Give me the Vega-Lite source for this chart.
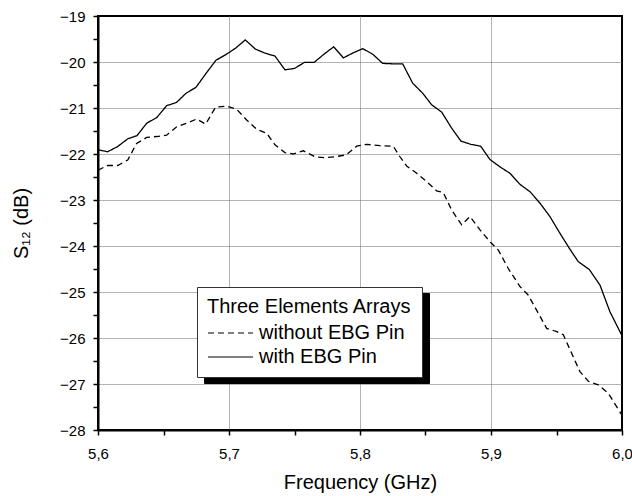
{
  "$schema": "https://vega.github.io/schema/vega-lite/v6.json",
  "autosize": {"type": "none"},
  "padding": {"left": 98, "top": 16, "right": 10, "bottom": 66},
  "width": 524,
  "height": 414,
  "background": "white",
  "config": {
    "font": "Liberation Sans",
    "view": {"stroke": "black", "strokeWidth": 2},
    "axis": {
      "domainColor": "black",
      "domainWidth": 2,
      "tickColor": "black",
      "tickWidth": 1.5,
      "tickSize": 5,
      "labelFont": "Liberation Sans",
      "labelFontSize": 15,
      "labelColor": "black",
      "titleFont": "Liberation Sans",
      "titleFontSize": 20,
      "titleFontWeight": "normal",
      "titleColor": "black",
      "gridColor": "#666666",
      "gridDash": [1, 1],
      "gridWidth": 1
    }
  },
  "data": {
    "values": [
      {"f": 5.6, "s": -21.91, "series": "with EBG Pin"},
      {"f": 5.6074, "s": -21.95, "series": "with EBG Pin"},
      {"f": 5.6149, "s": -21.84, "series": "with EBG Pin"},
      {"f": 5.6227, "s": -21.67, "series": "with EBG Pin"},
      {"f": 5.6298, "s": -21.60, "series": "with EBG Pin"},
      {"f": 5.6372, "s": -21.33, "series": "with EBG Pin"},
      {"f": 5.6448, "s": -21.21, "series": "with EBG Pin"},
      {"f": 5.6524, "s": -20.95, "series": "with EBG Pin"},
      {"f": 5.6599, "s": -20.88, "series": "with EBG Pin"},
      {"f": 5.6672, "s": -20.68, "series": "with EBG Pin"},
      {"f": 5.6748, "s": -20.55, "series": "with EBG Pin"},
      {"f": 5.6824, "s": -20.25, "series": "with EBG Pin"},
      {"f": 5.6901, "s": -19.96, "series": "with EBG Pin"},
      {"f": 5.6981, "s": -19.83, "series": "with EBG Pin"},
      {"f": 5.7050, "s": -19.70, "series": "with EBG Pin"},
      {"f": 5.7124, "s": -19.52, "series": "with EBG Pin"},
      {"f": 5.7202, "s": -19.72, "series": "with EBG Pin"},
      {"f": 5.7277, "s": -19.81, "series": "with EBG Pin"},
      {"f": 5.7351, "s": -19.87, "series": "with EBG Pin"},
      {"f": 5.7427, "s": -20.17, "series": "with EBG Pin"},
      {"f": 5.7500, "s": -20.14, "series": "with EBG Pin"},
      {"f": 5.7575, "s": -20.01, "series": "with EBG Pin"},
      {"f": 5.7649, "s": -20.01, "series": "with EBG Pin"},
      {"f": 5.7725, "s": -19.83, "series": "with EBG Pin"},
      {"f": 5.7799, "s": -19.67, "series": "with EBG Pin"},
      {"f": 5.7873, "s": -19.91, "series": "with EBG Pin"},
      {"f": 5.7949, "s": -19.80, "series": "with EBG Pin"},
      {"f": 5.8021, "s": -19.71, "series": "with EBG Pin"},
      {"f": 5.8097, "s": -19.83, "series": "with EBG Pin"},
      {"f": 5.8173, "s": -20.03, "series": "with EBG Pin"},
      {"f": 5.8250, "s": -20.04, "series": "with EBG Pin"},
      {"f": 5.8326, "s": -20.04, "series": "with EBG Pin"},
      {"f": 5.8402, "s": -20.46, "series": "with EBG Pin"},
      {"f": 5.8479, "s": -20.68, "series": "with EBG Pin"},
      {"f": 5.8547, "s": -20.93, "series": "with EBG Pin"},
      {"f": 5.8624, "s": -21.09, "series": "with EBG Pin"},
      {"f": 5.8700, "s": -21.44, "series": "with EBG Pin"},
      {"f": 5.8771, "s": -21.72, "series": "with EBG Pin"},
      {"f": 5.8847, "s": -21.79, "series": "with EBG Pin"},
      {"f": 5.8921, "s": -21.83, "series": "with EBG Pin"},
      {"f": 5.8992, "s": -22.12, "series": "with EBG Pin"},
      {"f": 5.9069, "s": -22.28, "series": "with EBG Pin"},
      {"f": 5.9145, "s": -22.42, "series": "with EBG Pin"},
      {"f": 5.9221, "s": -22.66, "series": "with EBG Pin"},
      {"f": 5.9298, "s": -22.82, "series": "with EBG Pin"},
      {"f": 5.9374, "s": -23.07, "series": "with EBG Pin"},
      {"f": 5.9450, "s": -23.36, "series": "with EBG Pin"},
      {"f": 5.9519, "s": -23.69, "series": "with EBG Pin"},
      {"f": 5.9598, "s": -24.05, "series": "with EBG Pin"},
      {"f": 5.9666, "s": -24.34, "series": "with EBG Pin"},
      {"f": 5.9750, "s": -24.51, "series": "with EBG Pin"},
      {"f": 5.9832, "s": -24.85, "series": "with EBG Pin"},
      {"f": 5.9908, "s": -25.43, "series": "with EBG Pin"},
      {"f": 6.0, "s": -25.95, "series": "with EBG Pin"},
      {"f": 5.6, "s": -22.35, "series": "without EBG Pin"},
      {"f": 5.6074, "s": -22.25, "series": "without EBG Pin"},
      {"f": 5.6150, "s": -22.25, "series": "without EBG Pin"},
      {"f": 5.6227, "s": -22.13, "series": "without EBG Pin"},
      {"f": 5.6295, "s": -21.77, "series": "without EBG Pin"},
      {"f": 5.6372, "s": -21.64, "series": "without EBG Pin"},
      {"f": 5.6448, "s": -21.62, "series": "without EBG Pin"},
      {"f": 5.6524, "s": -21.59, "series": "without EBG Pin"},
      {"f": 5.6601, "s": -21.41, "series": "without EBG Pin"},
      {"f": 5.6677, "s": -21.33, "series": "without EBG Pin"},
      {"f": 5.6753, "s": -21.24, "series": "without EBG Pin"},
      {"f": 5.6822, "s": -21.35, "series": "without EBG Pin"},
      {"f": 5.6898, "s": -20.98, "series": "without EBG Pin"},
      {"f": 5.6982, "s": -20.96, "series": "without EBG Pin"},
      {"f": 5.7059, "s": -21.03, "series": "without EBG Pin"},
      {"f": 5.7135, "s": -21.26, "series": "without EBG Pin"},
      {"f": 5.7211, "s": -21.46, "series": "without EBG Pin"},
      {"f": 5.7288, "s": -21.55, "series": "without EBG Pin"},
      {"f": 5.7351, "s": -21.80, "series": "without EBG Pin"},
      {"f": 5.7427, "s": -21.97, "series": "without EBG Pin"},
      {"f": 5.7491, "s": -22.00, "series": "without EBG Pin"},
      {"f": 5.7567, "s": -21.93, "series": "without EBG Pin"},
      {"f": 5.7656, "s": -22.06, "series": "without EBG Pin"},
      {"f": 5.7733, "s": -22.08, "series": "without EBG Pin"},
      {"f": 5.7809, "s": -22.06, "series": "without EBG Pin"},
      {"f": 5.7893, "s": -22.02, "series": "without EBG Pin"},
      {"f": 5.7975, "s": -21.83, "series": "without EBG Pin"},
      {"f": 5.8051, "s": -21.79, "series": "without EBG Pin"},
      {"f": 5.8153, "s": -21.82, "series": "without EBG Pin"},
      {"f": 5.8254, "s": -21.83, "series": "without EBG Pin"},
      {"f": 5.8305, "s": -22.06, "series": "without EBG Pin"},
      {"f": 5.8356, "s": -22.26, "series": "without EBG Pin"},
      {"f": 5.8433, "s": -22.42, "series": "without EBG Pin"},
      {"f": 5.8509, "s": -22.60, "series": "without EBG Pin"},
      {"f": 5.8585, "s": -22.80, "series": "without EBG Pin"},
      {"f": 5.8636, "s": -22.84, "series": "without EBG Pin"},
      {"f": 5.8700, "s": -23.22, "series": "without EBG Pin"},
      {"f": 5.8776, "s": -23.54, "series": "without EBG Pin"},
      {"f": 5.8840, "s": -23.36, "series": "without EBG Pin"},
      {"f": 5.8916, "s": -23.65, "series": "without EBG Pin"},
      {"f": 5.8996, "s": -23.92, "series": "without EBG Pin"},
      {"f": 5.9056, "s": -24.09, "series": "without EBG Pin"},
      {"f": 5.9132, "s": -24.49, "series": "without EBG Pin"},
      {"f": 5.9221, "s": -24.88, "series": "without EBG Pin"},
      {"f": 5.9285, "s": -25.07, "series": "without EBG Pin"},
      {"f": 5.9361, "s": -25.46, "series": "without EBG Pin"},
      {"f": 5.9425, "s": -25.79, "series": "without EBG Pin"},
      {"f": 5.9502, "s": -25.86, "series": "without EBG Pin"},
      {"f": 5.9552, "s": -25.93, "series": "without EBG Pin"},
      {"f": 5.9628, "s": -26.41, "series": "without EBG Pin"},
      {"f": 5.9679, "s": -26.73, "series": "without EBG Pin"},
      {"f": 5.9743, "s": -26.94, "series": "without EBG Pin"},
      {"f": 5.9819, "s": -27.02, "series": "without EBG Pin"},
      {"f": 5.9895, "s": -27.20, "series": "without EBG Pin"},
      {"f": 6.0, "s": -27.68, "series": "without EBG Pin"}
    ]
  },
  "mark": {"type": "line", "strokeWidth": 1.3, "clip": true},
  "encoding": {
    "x": {
      "field": "f",
      "type": "quantitative",
      "scale": {"domain": [5.6, 6.0], "nice": false, "zero": false},
      "axis": {
        "title": "Frequency (GHz)",
        "values": [5.6, 5.65, 5.7, 5.75, 5.8, 5.85, 5.9, 5.95, 6.0],
        "labelExpr": "abs(datum.value*10-round(datum.value*10))<0.01 ? replace(format(datum.value,'.1f'),'.',',') : ''",
        "labelPadding": 11,
        "labelFlush": false,
        "labelOverlap": false,
        "titlePadding": 11,
        "grid": true,
        "gridOpacity": {"condition": {"test": "abs(datum.value*10-round(datum.value*10))<0.01 && datum.value>5.61 && datum.value<5.99", "value": 1}, "value": 0}
      }
    },
    "y": {
      "field": "s",
      "type": "quantitative",
      "scale": {"domain": [-28, -19], "nice": false, "zero": false},
      "axis": {
        "title": "S₁₂ (dB)",
        "values": [-28, -27.5, -27, -26.5, -26, -25.5, -25, -24.5, -24, -23.5, -23, -22.5, -22, -21.5, -21, -20.5, -20, -19.5, -19],
        "labelExpr": "abs(datum.value-round(datum.value))<0.01 ? format(datum.value,'d') : ''",
        "labelPadding": 8,
        "labelFlush": false,
        "labelOverlap": false,
        "titlePadding": 28,
        "grid": true,
        "gridOpacity": {"condition": {"test": "abs(datum.value-round(datum.value))<0.01 && datum.value>-27.9 && datum.value<-19.1", "value": 1}, "value": 0}
      }
    },
    "color": {
      "field": "series",
      "type": "nominal",
      "scale": {"domain": ["with EBG Pin", "without EBG Pin"], "range": ["black", "black"]},
      "legend": {
        "title": "Three Elements Arrays",
        "orient": "none",
        "legendX": 106,
        "legendY": 277,
        "zindex": 1,
        "fillColor": "black",
        "strokeColor": "black",
        "padding": 10,
        "titleFontSize": 20,
        "titleFontWeight": "normal",
        "titleColor": "black",
        "titleOpacity": 0,
        "titleLimit": 400,
        "titlePadding": 6,
        "labelFontSize": 20,
        "labelColor": "black",
        "labelOpacity": 0,
        "labelLimit": 400,
        "labelOffset": 5,
        "rowPadding": 4,
        "clipHeight": 20,
        "symbolType": "stroke",
        "symbolSize": 2025,
        "symbolStrokeWidth": 1.2,
        "symbolStrokeColor": "black"
      }
    },
    "strokeDash": {
      "field": "series",
      "type": "nominal",
      "scale": {"domain": ["without EBG Pin", "with EBG Pin"], "range": [[6, 4], [1, 0]]},
      "legend": {
        "title": "Three Elements Arrays",
        "orient": "none",
        "legendX": 99,
        "legendY": 271,
        "zindex": 2,
        "fillColor": "white",
        "strokeColor": "#333333",
        "padding": 10,
        "titleFontSize": 20,
        "titleFontWeight": "normal",
        "titleColor": "black",
        "titleLimit": 400,
        "titlePadding": 6,
        "labelFontSize": 20,
        "labelColor": "black",
        "labelLimit": 400,
        "labelOffset": 5,
        "rowPadding": 4,
        "clipHeight": 20,
        "symbolType": "stroke",
        "symbolSize": 2025,
        "symbolStrokeWidth": 1.2,
        "symbolStrokeColor": "black"
      }
    }
  }
}
